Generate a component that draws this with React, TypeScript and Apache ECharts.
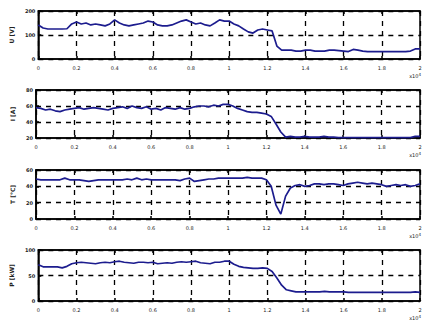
import React, { useEffect, useRef } from "react";
import * as echarts from "echarts";

const time = [
  0, 250, 500, 750, 1000, 1250, 1500, 1750, 2000, 2250, 2500, 2750, 3000, 3250, 3500, 3750,
  4000, 4250, 4500, 4750, 5000, 5250, 5500, 5750, 6000, 6250, 6500, 6750, 7000, 7250, 7500, 7750,
  8000, 8250, 8500, 8750, 9000, 9250, 9500, 9750, 10000, 10250, 10500, 10750, 11000, 11250, 11500, 11750,
  12000, 12250, 12500, 12750, 13000, 13250, 13500, 13750, 14000, 14250, 14500, 14750, 15000, 15250, 15500, 15750,
  16000, 16250, 16500, 16750, 17000, 17250, 17500, 17750, 18000, 18250, 18500, 18750, 19000, 19250, 19500, 19750,
  20000,
];

const voltage = [
  142, 129, 125, 125, 125, 125, 126, 146, 154, 146, 150, 142, 146, 142, 138, 146,
  163, 150, 142, 138, 142, 146, 150, 158, 154, 142, 138, 138, 142, 150, 158, 163,
  154, 146, 150, 142, 138, 150, 163, 158, 158, 146, 138, 125, 113, 108, 121, 125,
  121, 117, 54, 37, 37, 37, 33, 33, 37, 37, 33, 33, 33, 37, 37, 35,
  33, 31, 40, 37, 33, 31, 31, 31, 31, 31, 31, 31, 31, 31, 33, 42,
  42,
];

const current = [
  58, 57, 55, 56, 54, 53, 55, 56, 57, 58, 56, 57, 58, 57, 56, 55,
  57, 58, 59, 57, 60, 58, 57, 59, 56, 57, 55, 58, 57, 56, 58, 56,
  57, 59, 60, 60, 59, 61, 60, 62, 62, 60, 57, 55, 53, 52, 52, 51,
  50, 47, 37.5, 27.5, 21, 22, 21, 21, 22, 21, 21, 21, 22, 21, 21, 20.5,
  20.5, 20.5, 20.5, 20.5, 20.5, 20.5, 20.5, 20.5, 20.5, 20.5, 20.5, 20.5, 20.5, 20.5, 20.5, 22,
  22,
];

const temperature = [
  49, 48, 48, 48, 48, 48, 50, 48, 48, 48, 47, 46, 47, 48, 48, 48,
  48, 48, 48, 49, 48, 50, 48, 49, 48, 48, 48, 48, 48, 48, 47, 49,
  50, 46, 47, 48, 49, 49, 50, 50, 50, 50, 50, 50, 51, 50, 50, 50,
  48, 40, 17, 6, 28, 38, 41, 42, 40, 41, 43, 43, 42, 43, 43, 42,
  41, 43, 44, 45, 44, 43, 44, 43, 42, 40, 41, 42, 41, 42, 40, 41,
  43,
];

const power = [
  71, 67, 67, 67, 67, 65, 68, 73, 75, 76, 75, 74, 73, 75, 76, 75,
  77, 78, 76, 75, 74, 76, 76, 75, 76, 73, 74, 75, 74, 76, 77, 76,
  77, 78, 75, 74, 73, 76, 76, 78, 78, 72, 68, 66, 65, 64, 64, 65,
  64, 58, 45, 31, 22, 20, 18, 18, 18, 18, 18, 18, 19, 18, 18, 18,
  18, 17, 17, 17, 17, 17, 17, 17, 17, 17, 17, 17, 17, 17, 17, 18,
  17,
];

const yNames = ["U [V]", "I [A]", "T [°C]", "P [kW]"];
const yMins = [0, 20, 0, 0];
const yMaxs = [200, 80, 60, 100];
const yIntervals = [100, 20, 20, 50];
const seriesList = [voltage, current, temperature, power];

const gridTops = [11, 90, 170, 250];
const gridHeights = [48, 48, 49, 51];

const LINE = "#1c1c8e";

export default function App() {
  const ref = useRef<HTMLDivElement>(null);
  useEffect(() => {
    if (!ref.current) return;
    const chart = echarts.init(ref.current, undefined, { renderer: "svg" });
    const grids: any[] = [];
    const xAxes: any[] = [];
    const yAxes: any[] = [];
    const series: any[] = [];
    const graphics: any[] = [];
    seriesList.forEach((vals, k) => {
      grids.push({
        left: 36,
        right: 7,
        top: gridTops[k],
        height: gridHeights[k],
        show: true,
        borderColor: "#000",
        borderWidth: 1.5,
        backgroundColor: "#fff",
      });
      xAxes.push({
        type: "value",
        gridIndex: k,
        min: 0,
        max: 20000,
        interval: 2000,
        axisLine: { show: true, lineStyle: { color: "#000", width: 1.5 } },
        axisTick: { show: true, inside: true, length: 3, lineStyle: { color: "#000", width: 1.5 } },
        axisLabel: {
          fontSize: 5,
          color: "#222",
          margin: 6,
          fontFamily: "DejaVu Sans",
          formatter: (v: number) => String(Math.round((v / 10000) * 10) / 10),
        },
        splitLine: { show: true, lineStyle: { color: "#000", type: [5, 5], width: 1.3 } },
      });
      xAxes.push({
        type: "value",
        gridIndex: k,
        position: "top",
        min: 0,
        max: 20000,
        interval: 2000,
        axisLine: { show: true, lineStyle: { color: "#000", width: 1.5 } },
        axisTick: { show: true, inside: true, length: 3, lineStyle: { color: "#000", width: 1.5 } },
        axisLabel: { show: false },
        splitLine: { show: false },
      });
      yAxes.push({
        type: "value",
        gridIndex: k,
        min: yMins[k],
        max: yMaxs[k],
        interval: yIntervals[k],
        name: yNames[k],
        nameLocation: "middle",
        nameGap: 10,
        nameTextStyle: { fontSize: 6, color: "#222", fontFamily: "DejaVu Sans", fontWeight: "bold" },
        axisLine: { show: true, lineStyle: { color: "#000", width: 1.5 } },
        axisTick: { show: true, inside: true, length: 3, lineStyle: { color: "#000", width: 1.5 } },
        axisLabel: { fontSize: 5, color: "#222", margin: 3, fontFamily: "DejaVu Sans", fontWeight: "bold" },
        splitLine: { show: true, lineStyle: { color: "#000", type: [5, 5], width: 1.3 } },
      });
      series.push({
        type: "line",
        xAxisIndex: 2 * k,
        yAxisIndex: k,
        data: time.map((t, i) => [t, vals[i]]),
        showSymbol: false,
        symbol: "none",
        lineStyle: { color: LINE, width: 1.7 },
      });
      graphics.push({
        type: "text",
        right: 6,
        top: gridTops[k] + gridHeights[k] + 13,
        style: {
          text: "{b|x10}{s|4}",
          rich: {
            b: { fontSize: 5, fill: "#222", fontFamily: "DejaVu Sans" },
            s: { fontSize: 4, fill: "#222", fontFamily: "DejaVu Sans", verticalAlign: "top", padding: [0, 0, 4, 0] },
          },
        },
      });
    });
    chart.setOption({
      animation: false,
      backgroundColor: "#fff",
      grid: grids,
      xAxis: xAxes,
      yAxis: yAxes,
      series,
      graphic: graphics,
    });
    return () => chart.dispose();
  }, []);
  return (
    <div
      ref={ref}
      style={{ position: "fixed", left: 0, top: 0, width: 427, height: 322, background: "#fff" }}
    />
  );
}
